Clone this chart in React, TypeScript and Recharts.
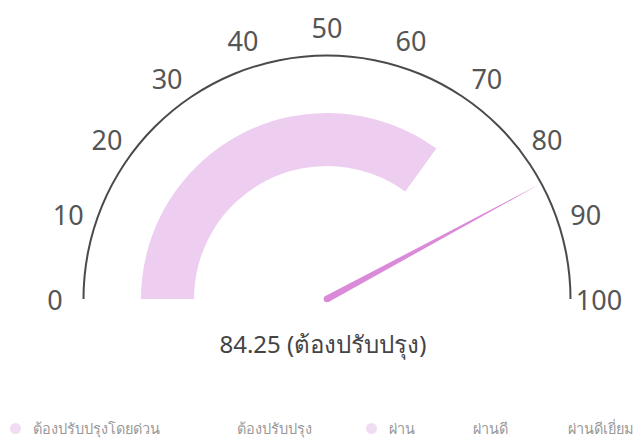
import React from "react";
import { RadialBarChart, RadialBar, PolarAngleAxis } from "recharts";

// gauge data
const score = 84.25;
const scoreLabel = "ต้องปรับปรุง";
const scaleMin = 0;
const scaleMax = 100;
const scaleTicks = [0, 10, 20, 30, 40, 50, 60, 70, 80, 90, 100];
const bandValue = 70;

// legend
const legendLabels = [
  "ต้องปรับปรุงโดยด่วน",
  "ต้องปรับปรุง",
  "ผ่าน",
  "ผ่านดี",
  "ผ่านดีเยี่ยม",
];
const legendColors = ["#f1dcf3", "#ffffff", "#f1dcf3", "#ffffff", "#ffffff"];
const legendLeft = [10, 214, 366, 450, 545];

const W = 638;
const H = 439;
const CX = 327;
const CY = 299;
const FONT = "'Noto Sans', 'Open Sans', sans-serif";

if (typeof document !== "undefined") document.body.style.margin = "0";

function ScaleTick(props: any) {
  const { x, y, payload } = props;
  const cx = props.cx ?? CX;
  const cy = props.cy ?? CY;
  const dx = x - cx;
  const dy = y - cy;
  const d = Math.hypot(dx, dy) || 1;
  const r = 272;
  return (
    <text
      x={cx + (dx / d) * r}
      y={cy + (dy / d) * r}
      textAnchor="middle"
      dominantBaseline="central"
      fontSize={27}
      fontFamily={FONT}
      fill="#555"
    >
      {payload.value}
    </text>
  );
}

function NeedleShape(props: any) {
  const { cx, cy, endAngle, outerRadius } = props;
  const a = (endAngle * Math.PI) / 180;
  const tx = cx + outerRadius * Math.cos(a);
  const ty = cy - outerRadius * Math.sin(a);
  const w = 3.3;
  const px = Math.sin(a) * w;
  const py = Math.cos(a) * w;
  return (
    <g>
      <polygon
        points={`${cx + px},${cy + py} ${tx},${ty} ${cx - px},${cy - py}`}
        fill="#db8ad9"
      />
      <circle cx={cx} cy={cy} r={w} fill="#db8ad9" />
    </g>
  );
}

const angleAxis = (withTicks: boolean) => (
  <PolarAngleAxis
    type="number"
    domain={[scaleMin, scaleMax]}
    ticks={scaleTicks}
    tick={withTicks ? ScaleTick : false}
    axisLine={false}
    tickLine={false}
  />
);

const layer: React.CSSProperties = { position: "absolute", left: 0, top: 0 };

export default function App() {
  return (
    <div style={{ position: "relative", width: W, height: H, background: "#fff", fontFamily: FONT }}>
      {/* band */}
      <div style={layer}>
        <RadialBarChart
          width={W}
          height={H}
          cx={CX}
          cy={CY}
          innerRadius={133}
          outerRadius={186}
          startAngle={180}
          endAngle={0}
          barCategoryGap={0}
          data={[{ name: "band", value: bandValue }]}
        >
          {angleAxis(false)}
          <RadialBar dataKey="value" fill="#edcdf0" isAnimationActive={false} />
        </RadialBarChart>
      </div>
      {/* outline arc + scale */}
      <div style={layer}>
        <RadialBarChart
          width={W}
          height={H}
          cx={CX}
          cy={CY}
          innerRadius={242.5}
          outerRadius={244.5}
          startAngle={180}
          endAngle={0}
          barCategoryGap={0}
          data={[{ name: "scale", value: scaleMax }]}
        >
          {angleAxis(true)}
          <RadialBar dataKey="value" fill="#4a4a4a" isAnimationActive={false} />
        </RadialBarChart>
      </div>
      {/* needle */}
      <div style={layer}>
        <RadialBarChart
          width={W}
          height={H}
          cx={CX}
          cy={CY}
          innerRadius={0}
          outerRadius={242}
          startAngle={180}
          endAngle={0}
          barCategoryGap={0}
          data={[{ name: "score", value: score }]}
        >
          {angleAxis(false)}
          <RadialBar dataKey="value" shape={NeedleShape} isAnimationActive={false} />
        </RadialBarChart>
      </div>
      <div
        style={{
          position: "absolute",
          left: 0,
          width: 646,
          top: 325,
          textAlign: "center",
          fontSize: 24,
          color: "#444",
        }}
      >
        {score} ({scoreLabel})
      </div>
      {legendLabels.map((label, i) => (
        <div
          key={label}
          style={{
            position: "absolute",
            left: legendLeft[i],
            top: 417,
            display: "flex",
            alignItems: "center",
            fontSize: 14.5,
            color: "#999",
          }}
        >
          <span
            style={{
              width: 11,
              height: 11,
              borderRadius: "50%",
              background: legendColors[i],
              marginRight: 12,
              display: "inline-block",
            }}
          />
          {label}
        </div>
      ))}
    </div>
  );
}
